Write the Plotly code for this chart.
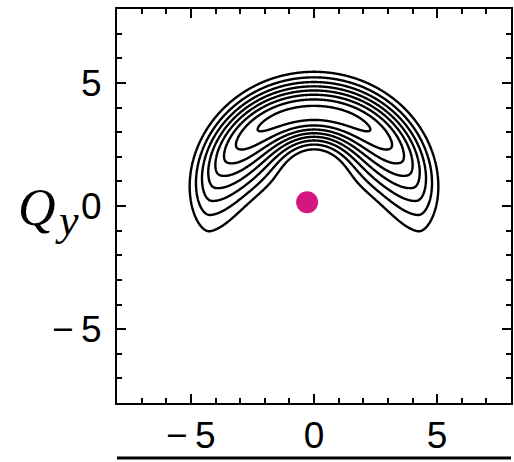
import numpy as np
import plotly.graph_objects as go

# ---- data ----
axis_range = [-8, 8]
tick_vals = [-5, 0, 5]
tick_text = ["\u2212\u20095", "0", "5"]

# crescent-shaped distribution parameters
ring_center = [0.0, 0.1]        # centre of the arc (Qx, Qy)
ridge_radius_top = 3.66         # ridge radius at the top of the arc
ridge_radius_growth = 0.6       # ridge radius increase towards the tips
sigma_outer = 1.0               # radial spread on the outer side
sigma_outer_shrink = 0.18
sigma_inner = 0.864             # radial spread on the inner side
sigma_inner_growth = 0.6
arc_extent_deg = 94.3           # angular fall-off from the top
arc_power = 3.31
contour_levels = [0.24, 0.96, 0.102]   # start, end, step

point_x = [-0.28]
point_y = [0.15]

# ---- field ----
gx = np.linspace(-8, 8, 641)
gy = np.linspace(-8, 8, 641)
X, Y = np.meshgrid(gx, gy)
dx = X - ring_center[0]
dy = Y - ring_center[1]
r = np.hypot(dx, dy)
phi = np.degrees(np.abs(np.arctan2(dx, dy)))
R = ridge_radius_top + ridge_radius_growth * (phi / 100.0) ** 2
s_out = np.maximum(sigma_outer * (1 - sigma_outer_shrink * (phi / 82.0) ** 2), 0.4)
s_in = sigma_inner * (1 + sigma_inner_growth * np.sin(np.radians(np.minimum(phi, 90))) ** 2)
s = np.where(r >= R, s_out, s_in)
Z = np.exp(-(r - R) ** 2 / (2 * s ** 2)) * np.exp(-(phi / arc_extent_deg) ** arc_power)

fig = go.Figure()
fig.add_trace(go.Contour(
    x=gx, y=gy, z=Z,
    contours=dict(start=contour_levels[0], end=contour_levels[1], size=contour_levels[2], coloring="none"),
    line=dict(color="black", width=2.4),
    showscale=False, hoverinfo="skip",
))
fig.add_trace(go.Scatter(
    x=point_x, y=point_y, mode="markers",
    marker=dict(color="#d6167f", size=22, line=dict(width=0)),
    showlegend=False, hoverinfo="skip",
))

axis_common = dict(
    range=axis_range, showgrid=False, zeroline=False, automargin=False,
    showline=True, linecolor="black", linewidth=2, mirror="allticks",
    ticks="inside", ticklen=9, tickwidth=1.5, tickcolor="black",
    tickvals=tick_vals, ticktext=tick_text,
    tickfont=dict(family="Liberation Sans", size=37, color="black"),
    minor=dict(dtick=1, ticks="inside", ticklen=5, tickwidth=1.5, tickcolor="black", showgrid=False),
)
fig.update_xaxes(**axis_common, ticklabelstandoff=-1)
fig.update_yaxes(**axis_common, ticklabelstandoff=6)

L, T, PW, PH = 117, 9, 394.0, 394.0
fig.add_annotation(
    xref="paper", yref="paper", x=(58 - L) / PW, y=(T + PH - 207) / PH,
    xanchor="right", yanchor="middle",
    text="<i>Q</i>", showarrow=False,
    font=dict(family="Liberation Serif", size=52, color="black"),
)
fig.add_annotation(
    xref="paper", yref="paper", x=(53 - L) / PW, y=(T + PH - 220) / PH,
    xanchor="left", yanchor="middle",
    text="<i>y</i>", showarrow=False,
    font=dict(family="Liberation Serif", size=44, color="black"),
)
fig.add_shape(type="line", xref="paper", yref="paper", x0=0, x1=1,
              y0=-(458 - T - PH) / PH, y1=-(458 - T - PH) / PH,
              line=dict(color="black", width=3))

fig.update_layout(
    width=514, height=462,
    margin=dict(l=L, r=514 - L - int(PW), t=T, b=462 - T - int(PH), autoexpand=False),
    paper_bgcolor="white", plot_bgcolor="white",
    showlegend=False,
)
fig.write_html("out.html", config={"displayModeBar": False},
               post_script="document.body.style.margin='0';document.body.style.overflow='hidden';")
